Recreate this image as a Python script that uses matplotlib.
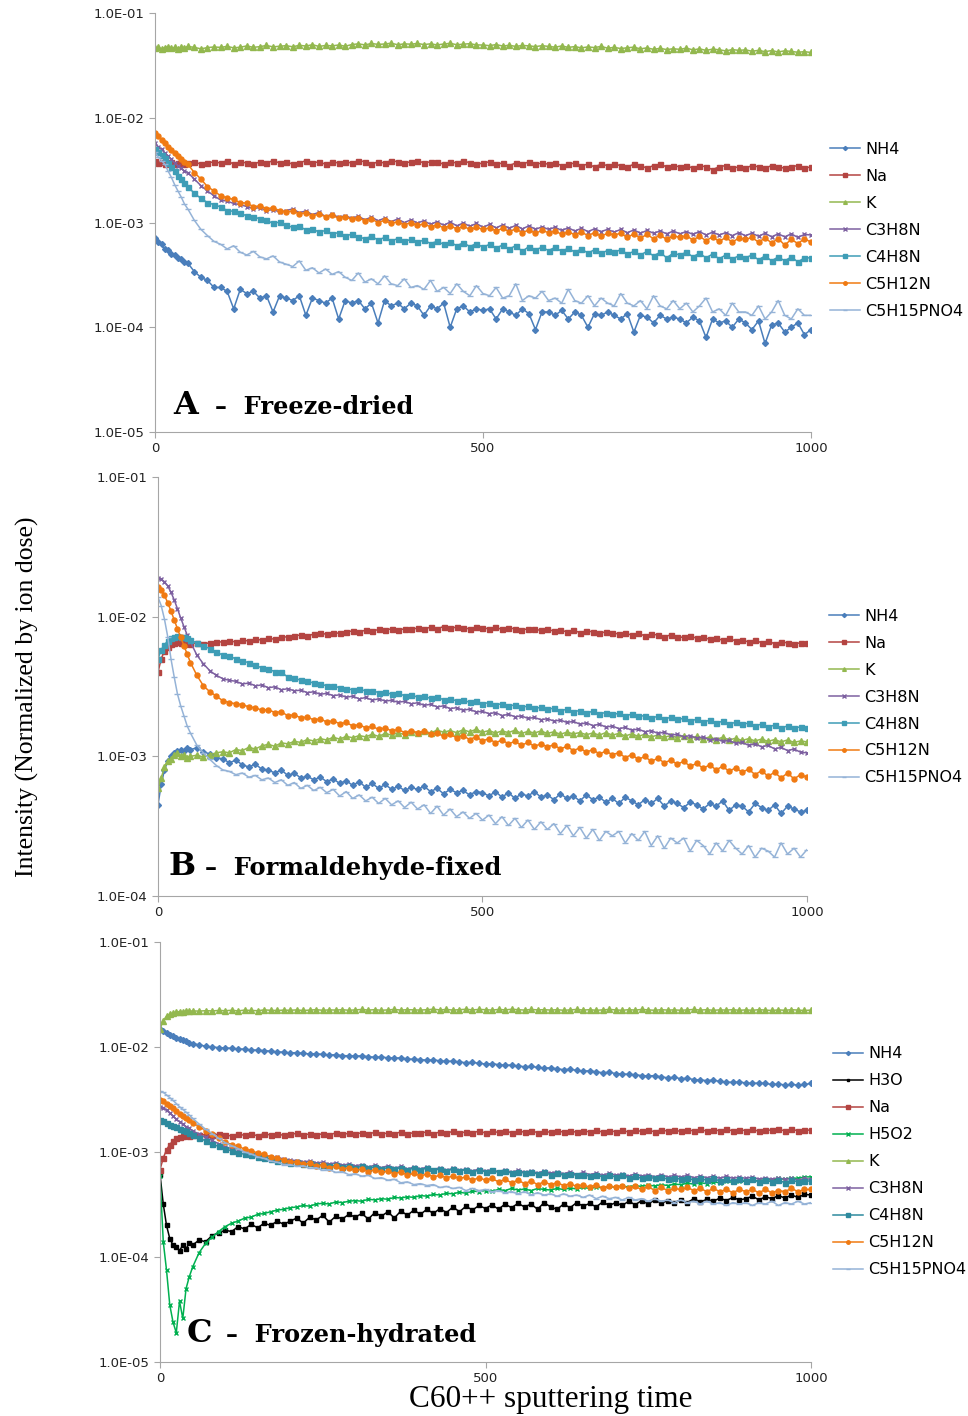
import numpy as np
import matplotlib.pyplot as plt

# sputtering time grid shared by all panels (finer at the start)
early_times = [0, 5, 10, 15, 20, 25, 30, 35, 40, 45, 50, 60, 70, 80, 90]
time = early_times + list(range(100, 1001, 10))

UNIT = 1e-4  # all intensities below are given in units of 1e-4

# ---- A: freeze-dried ----
a_nh4 = [7.1, 6.5, 6.2, 5.6, 5.5, 5.0, 4.9, 4.6, 4.5, 4.2, 4.1, 3.4, 3.0, 2.8, 2.4,
         2.4, 2.2, 1.5, 2.3, 2.1, 2.2, 1.9, 2.0, 1.4, 2.0,
         1.9, 1.8, 2.0, 1.3, 1.9, 1.8, 1.7, 1.9, 1.2, 1.8,
         1.7, 1.8, 1.5, 1.7, 1.1, 1.8, 1.6, 1.7, 1.5, 1.7,
         1.6, 1.3, 1.6, 1.5, 1.7, 1.0, 1.5, 1.6, 1.4, 1.5,
         1.45, 1.5, 1.2, 1.5, 1.4, 1.3, 1.5, 1.35, 0.95, 1.4,
         1.4, 1.3, 1.45, 1.2, 1.4, 1.3, 1.0, 1.35, 1.3, 1.4,
         1.3, 1.2, 1.35, 0.9, 1.3, 1.25, 1.1, 1.3, 1.2, 1.25,
         1.2, 1.1, 1.25, 1.15, 0.8, 1.2, 1.1, 1.15, 1.0, 1.2,
         1.1, 0.95, 1.15, 0.7, 1.05, 1.1, 0.9, 1.0, 1.1, 0.85, 0.95]
a_na = [39, 37, 38, 36, 37, 38, 36, 37, 38, 36, 37, 38, 36, 37, 38,
        37, 39, 36, 38, 37, 36, 38, 37, 39, 37,
        38, 36, 37, 39, 37, 38, 36, 38, 37, 38,
        37, 39, 38, 36, 38, 37, 39, 38, 37, 38,
        39, 37, 38, 38, 36, 38, 37, 39, 37, 36,
        37, 38, 36, 37, 35, 37, 36, 38, 36, 37,
        36, 37, 35, 36, 37, 35, 36, 34, 36, 35,
        36, 35, 34, 36, 35, 33, 35, 36, 34, 35,
        34, 35, 33, 35, 34, 32, 34, 35, 33, 34,
        33, 35, 34, 33, 35, 34, 33, 34, 35, 33, 34]
a_k = [460, 472, 455, 468, 478, 462, 470, 458, 475, 466, 480, 470, 455, 468, 474,
       470, 480, 465, 472, 485, 470, 478, 490, 475, 482,
       488, 476, 492, 484, 498, 480, 490, 486, 495, 482,
       500, 508, 496, 512, 502, 506, 515, 498, 508, 504,
       512, 500, 508, 496, 506, 514, 498, 504, 510, 496,
       495, 488, 500, 484, 492, 480, 490, 486, 478, 488,
       480, 472, 485, 470, 478, 465, 475, 468, 480, 462,
       470, 458, 466, 472, 455, 465, 450, 460, 448, 456,
       450, 462, 445, 455, 440, 452, 446, 435, 448, 440,
       445, 432, 440, 428, 438, 425, 436, 430, 422, 428, 420]
a_c3h8n = [57, 53, 50, 46, 43, 40, 37, 35, 33, 31, 30, 26, 22.5, 20, 18,
           16.4, 16.0, 15.2, 14.8, 14.2, 13.6, 13.9, 13.0, 13.3, 12.6,
           13.0, 13.5, 12.4, 12.9, 11.9, 12.5, 11.4, 12.0, 11.2, 11.6,
           11.0, 11.5, 10.6, 11.3, 10.4, 11.0, 10.2, 10.8, 10.0, 10.6,
           9.9, 10.4, 9.6, 10.2, 9.4, 10.1, 9.3, 9.9, 9.2, 9.8,
           9.0, 9.6, 8.9, 9.5, 8.8, 9.4, 8.7, 9.3, 8.6, 9.1,
           8.6, 9.0, 8.4, 8.9, 8.3, 8.8, 8.2, 8.7, 8.2, 8.6,
           8.1, 8.6, 8.0, 8.5, 7.9, 8.4, 7.9, 8.3, 7.8, 8.3,
           7.8, 8.2, 7.7, 8.2, 7.6, 8.1, 7.6, 8.0, 7.5, 8.0,
           7.5, 7.9, 7.4, 7.9, 7.3, 7.8, 7.3, 7.8, 7.2, 7.7, 7.6]
a_c4h8n = [50, 47, 44, 41, 37, 34, 31, 28, 26, 24, 22, 19, 17, 15.5, 14.8,
           14.1, 13.0, 12.8, 12.2, 11.6, 11.4, 10.8, 10.5, 9.8, 10.1,
           9.4, 9.0, 9.2, 8.5, 8.7, 8.1, 8.4, 7.8, 8.0, 7.5,
           7.7, 7.3, 7.0, 7.4, 6.8, 7.2, 6.7, 7.0, 6.6, 6.9,
           6.5, 6.8, 6.3, 6.6, 6.2, 6.5, 6.0, 6.4, 5.9, 6.3,
           5.8, 6.2, 5.7, 6.1, 5.6, 6.0, 5.3, 5.9, 5.5, 5.8,
           5.4, 5.8, 5.3, 5.7, 5.2, 5.6, 5.1, 5.5, 5.1, 5.4,
           5.2, 5.5, 5.0, 5.3, 4.9, 5.3, 4.8, 5.2, 4.6, 5.1,
           4.9, 5.2, 4.7, 5.1, 4.6, 5.0, 4.5, 4.9, 4.5, 4.8,
           4.6, 4.9, 4.4, 4.8, 4.3, 4.7, 4.3, 4.7, 4.2, 4.6, 4.6]
a_c5h12n = [71, 67, 62, 57, 53, 49, 46, 43, 40, 38, 36, 30, 26, 22, 20,
            18.0, 17.2, 16.6, 15.5, 15.3, 14.2, 14.4, 13.6, 13.8, 13.0,
            12.6, 12.9, 12.1, 12.4, 11.6, 12.0, 11.4, 11.7, 11.0, 11.4,
            10.7, 11.1, 10.4, 10.8, 10.0, 10.5, 9.8, 10.2, 9.5, 10.0,
            9.4, 9.7, 9.1, 9.5, 8.9, 9.3, 8.7, 9.2, 8.6, 9.0,
            8.6, 8.9, 8.3, 8.8, 8.2, 8.7, 8.0, 8.5, 7.9, 8.4,
            8.0, 8.3, 7.7, 8.2, 7.6, 8.1, 7.5, 8.0, 7.4, 7.9,
            7.6, 7.9, 7.2, 7.8, 7.1, 7.7, 7.0, 7.6, 6.9, 7.5,
            7.2, 7.5, 6.8, 7.4, 6.7, 7.3, 6.6, 7.2, 6.5, 7.1,
            6.9, 7.2, 6.5, 7.1, 6.4, 7.0, 6.1, 6.9, 6.3, 7.0, 6.5]
a_c5h15pno4 = [47, 42, 39, 36, 31, 27, 23, 20, 17.5, 15, 13.5, 10.5, 8.6, 7.5, 6.6,
               6.2, 5.6, 6.0, 5.2, 4.9, 5.3, 4.7, 4.5, 4.8, 4.2,
               4.0, 3.8, 4.3, 3.5, 3.7, 3.3, 3.6, 3.2, 3.4, 3.0,
               2.8, 3.3, 2.7, 2.9, 2.6, 3.1, 2.6, 2.5, 2.9, 2.4,
               2.5, 2.3, 2.8, 2.2, 2.4, 2.1, 2.6, 2.2, 2.0, 2.5,
               2.1, 2.0, 2.4, 1.9, 2.0, 2.6, 1.8, 2.0, 1.9, 2.2,
               1.8, 1.9, 1.7, 2.3, 1.8, 1.7, 2.0, 1.6, 1.9, 1.7,
               1.6, 2.1, 1.7, 1.6, 1.8, 1.5, 2.0, 1.6, 1.5, 1.8,
               1.5, 1.7, 1.4, 1.6, 1.9, 1.4, 1.5, 1.3, 1.7, 1.4,
               1.4, 1.3, 1.6, 1.2, 1.4, 1.8, 1.3, 1.2, 1.5, 1.3, 1.3]

# ---- B: formaldehyde-fixed ----
b_nh4 = [4.5, 6.3, 8.0, 9.2, 10.0, 10.6, 10.9, 11.2, 11.0, 11.4, 11.2, 11.5, 10.8, 10.4, 9.8,
         9.6, 9.0, 9.4, 8.7, 8.4, 8.8, 8.1, 8.0, 7.6, 8.0,
         7.3, 7.6, 7.0, 7.2, 6.8, 7.1, 6.6, 6.9, 6.4, 6.7,
         6.2, 6.6, 6.0, 6.4, 5.9, 6.3, 5.8, 6.1, 5.7, 6.0,
         5.8, 6.1, 5.6, 5.9, 5.4, 5.8, 5.5, 5.7, 5.3, 5.6,
         5.5, 5.2, 5.6, 5.1, 5.5, 5.0, 5.4, 5.2, 5.6, 5.1,
         5.3, 4.9, 5.4, 5.0, 5.2, 4.8, 5.3, 4.9, 5.1, 4.7,
         5.0, 4.6, 5.1, 4.8, 4.5, 4.9, 4.6, 5.0, 4.4, 4.8,
         4.6, 4.3, 4.7, 4.5, 4.2, 4.6, 4.4, 4.8, 4.1, 4.5,
         4.4, 4.0, 4.6, 4.3, 4.1, 4.5, 3.9, 4.4, 4.2, 4.0, 4.1]
b_na = [40, 50, 57, 61, 64, 65, 66, 65, 64, 65, 64, 65, 64, 65, 66,
        66, 67, 66, 68, 67, 69, 68, 70, 69, 71,
        72, 73, 74, 73, 75, 76, 75, 77, 76, 78,
        79, 78, 80, 79, 81, 80, 82, 80, 82, 81,
        83, 82, 84, 82, 85, 83, 84, 83, 82, 84,
        83, 82, 84, 81, 83, 82, 80, 82, 81, 80,
        81, 79, 80, 78, 80, 77, 79, 78, 76, 78,
        77, 75, 76, 74, 76, 73, 75, 74, 72, 74,
        72, 71, 73, 70, 71, 69, 70, 68, 70, 67,
        68, 66, 68, 65, 67, 64, 66, 65, 64, 65, 65]
b_k = [5.9, 7.0, 8.4, 9.2, 9.6, 10.2, 10.5, 10.1, 10.3, 9.8, 10.0, 10.2, 9.9, 10.3, 10.6,
       10.8, 10.6, 11.2, 11.0, 11.6, 11.3, 11.9, 12.2, 11.8, 12.5,
       12.3, 12.8, 12.6, 13.2, 12.9, 13.4, 13.1, 13.7, 13.3, 13.9,
       13.6, 14.1, 13.8, 14.4, 13.9, 14.6, 14.2, 14.8, 14.3, 15.0,
       14.6, 15.2, 14.7, 15.4, 14.9, 15.3, 14.8, 15.5, 15.0, 15.6,
       14.9, 15.3, 14.7, 15.2, 14.8, 15.4, 14.6, 15.1, 14.7, 15.2,
       14.6, 15.0, 14.4, 14.9, 14.5, 14.8, 14.3, 14.7, 14.2, 14.8,
       14.2, 14.6, 14.0, 14.5, 13.9, 14.4, 13.8, 14.2, 13.7, 14.1,
       13.6, 14.0, 13.4, 13.9, 13.3, 13.8, 13.2, 13.7, 13.1, 13.5,
       13.0, 13.4, 12.9, 13.3, 12.8, 13.2, 12.7, 13.1, 12.6, 12.9, 12.7]
b_c3h8n = [190, 186, 178, 166, 150, 132, 114, 98, 85, 74, 66, 53, 46, 41, 38,
           36, 35, 34.5, 33, 33.5, 32, 32.5, 31, 31.5, 30,
           30.5, 29.5, 29.8, 28.6, 29.0, 27.8, 28.3, 27.2, 27.6, 26.5,
           27.0, 25.8, 26.4, 25.3, 25.8, 24.9, 25.2, 24.4, 24.8, 23.8,
           24.2, 23.2, 23.6, 22.6, 23.0, 22.0, 22.3, 21.4, 21.8, 20.8,
           21.0, 20.2, 20.6, 19.6, 20.0, 19.2, 19.5, 18.7, 19.0, 18.3,
           18.6, 17.9, 18.2, 17.5, 17.8, 17.0, 17.4, 16.6, 17.0, 16.2,
           16.5, 15.8, 16.1, 15.4, 15.7, 15.0, 15.3, 14.6, 14.9, 14.2,
           14.4, 13.8, 14.1, 13.5, 13.8, 13.1, 13.4, 12.8, 13.0, 12.4,
           12.6, 12.0, 12.3, 11.7, 12.0, 11.3, 11.6, 11.0, 11.3, 10.7, 10.6]
b_c4h8n = [50, 58, 63, 67, 70, 72, 73, 72, 71, 70, 68, 65, 62, 59, 56,
           53, 52, 50, 48, 47, 45, 43, 42, 40.5, 40,
           37, 36.5, 35, 34.5, 33.5, 33, 32, 32, 31, 30.5,
           30, 30.5, 29.3, 29.6, 28.6, 28.9, 27.8, 28.2, 27.2, 27.5,
           26.6, 26.9, 26.0, 26.4, 25.5, 25.8, 25.0, 25.3, 24.4, 24.8,
           23.9, 24.2, 23.4, 23.8, 23.0, 23.3, 22.5, 22.9, 22.1, 22.4,
           21.8, 22.1, 21.3, 21.7, 20.9, 21.3, 20.5, 21.0, 20.2, 20.6,
           20.0, 20.3, 19.6, 20.0, 19.3, 19.6, 18.9, 19.3, 18.6, 19.0,
           18.4, 18.7, 18.0, 18.4, 17.7, 18.1, 17.4, 17.8, 17.1, 17.5,
           17.0, 17.3, 16.6, 17.0, 16.3, 16.7, 16.0, 16.5, 15.9, 16.3, 16.0]
b_c5h12n = [164, 156, 142, 126, 110, 95, 82, 71, 62, 54, 47, 38, 32, 29, 27,
            25, 24.3, 23.8, 23.5, 22.6, 22.3, 21.4, 21.6, 20.6, 20.9,
            19.5, 19.9, 18.8, 19.2, 18.2, 18.6, 17.6, 18.0, 17.1, 17.5,
            16.5, 16.9, 16.0, 16.4, 15.6, 16.0, 15.2, 15.6, 14.8, 15.3,
            14.8, 15.1, 14.4, 14.7, 13.9, 14.4, 13.6, 14.1, 13.2, 13.8,
            12.9, 13.4, 12.5, 13.1, 12.3, 12.8, 12.0, 12.6, 11.8, 12.3,
            11.7, 12.1, 11.3, 11.8, 11.0, 11.5, 10.7, 11.2, 10.4, 10.9,
            10.3, 10.6, 9.8, 10.3, 9.5, 10.0, 9.2, 9.7, 9.0, 9.4,
            8.8, 9.2, 8.5, 8.9, 8.2, 8.7, 8.0, 8.5, 7.8, 8.3,
            7.7, 8.1, 7.4, 7.9, 7.2, 7.7, 7.0, 7.6, 6.9, 7.4, 7.1]
b_c5h15pno4 = [138, 120, 96, 72, 50, 37, 28, 23, 19.5, 16.5, 14.7, 12, 10.6, 9.5, 8.6,
               8.0, 7.8, 7.4, 7.6, 7.1, 7.3, 6.8, 7.0, 6.5, 6.8,
               6.2, 6.5, 5.9, 6.2, 5.7, 6.0, 5.5, 5.8, 5.2, 5.6,
               5.0, 5.3, 4.8, 5.1, 4.6, 5.0, 4.5, 4.8, 4.3, 4.7,
               4.2, 4.5, 3.9, 4.4, 3.8, 4.2, 3.7, 4.0, 3.6, 3.9,
               3.5, 3.8, 3.3, 3.7, 3.2, 3.6, 3.1, 3.5, 3.0, 3.4,
               3.0, 3.3, 2.8, 3.2, 2.7, 3.1, 2.6, 3.0, 2.5, 2.9,
               2.7, 2.9, 2.4, 2.8, 2.5, 2.9, 2.3, 2.7, 2.2, 2.6,
               2.4, 2.6, 2.1, 2.5, 2.3, 2.0, 2.4, 2.1, 2.5, 2.2,
               2.0, 2.3, 1.9, 2.2, 2.1, 1.9, 2.4, 2.0, 2.2, 1.9, 2.15]

# ---- C: frozen-hydrated ----
c_nh4 = [150, 143, 136, 131, 127, 123, 119, 116, 113, 110, 108, 105, 102, 100, 99,
         98, 97.5, 96, 95.5, 94, 93.5, 92.5, 91.5, 90, 89.5,
         88, 88.5, 87, 86, 86.5, 85, 84, 84.5, 83, 82.5,
         82, 82.5, 81, 80, 80.5, 79, 78.5, 79, 77, 76.5,
         76, 75, 75.5, 74, 73, 73.5, 72, 71, 71.5, 70,
         69, 69.5, 68, 67, 67.5, 66, 65, 65.5, 64, 63,
         63.5, 62, 61, 61.5, 60, 59, 59.5, 58, 57, 57.5,
         56, 55.5, 55, 54.5, 53.5, 53, 53.5, 52, 51, 51.5,
         50, 50.5, 49, 48.5, 48, 48.5, 47, 46.5, 46, 46.5,
         45.5, 45, 45.5, 45, 44, 44.5, 43.5, 44, 43.5, 44, 45]
c_h3o = [6.1, 3.2, 2.0, 1.5, 1.3, 1.25, 1.15, 1.3, 1.2, 1.35, 1.3, 1.45, 1.4, 1.6, 1.7,
         1.8, 1.75, 1.95, 1.85, 2.05, 1.9, 2.1, 2.0, 2.2, 2.05,
         2.2, 2.35, 2.1, 2.4, 2.25, 2.5, 2.15, 2.45, 2.3, 2.55,
         2.4, 2.6, 2.3, 2.65, 2.45, 2.7, 2.35, 2.75, 2.5, 2.8,
         2.55, 2.85, 2.6, 2.9, 2.65, 3.0, 2.7, 3.05, 2.8, 3.1,
         2.9, 3.15, 2.85, 3.2, 2.95, 3.25, 3.0, 3.2, 2.85, 3.3,
         3.0, 2.85, 3.2, 2.95, 3.3, 3.05, 3.25, 3.0, 3.35, 3.1,
         3.3, 3.1, 3.4, 3.15, 3.45, 3.2, 3.5, 3.25, 3.45, 3.3,
         3.5, 3.3, 3.6, 3.35, 3.55, 3.4, 3.65, 3.45, 3.7, 3.5,
         3.6, 3.8, 3.5, 3.75, 3.6, 3.85, 3.65, 3.9, 3.7, 3.95, 3.9]
c_na = [6.8, 8.8, 10.5, 11.8, 12.8, 13.5, 13.9, 14.2, 14.5, 14.3, 14.6, 14.4, 14.7, 14.5, 14.8,
        14.6, 14.2, 14.9, 14.4, 14.8, 14.3, 15.0, 14.5, 14.9, 14.4,
        14.7, 15.1, 14.5, 14.9, 14.4, 15.0, 14.6, 15.2, 14.7, 15.1,
        14.8, 15.3, 14.9, 15.4, 14.8, 15.2, 15.0, 15.5, 14.9, 15.3,
        15.1, 15.6, 15.0, 15.5, 15.2, 15.7, 15.1, 15.6, 15.3, 15.8,
        15.2, 15.7, 15.4, 15.9, 15.3, 15.8, 15.5, 16.0, 15.3, 15.8,
        15.4, 15.9, 15.5, 16.0, 15.4, 15.9, 15.6, 16.1, 15.5, 16.0,
        15.6, 16.1, 15.5, 16.2, 15.7, 16.1, 15.6, 16.3, 15.8, 16.2,
        15.7, 16.3, 15.9, 16.4, 15.8, 16.2, 16.0, 16.5, 15.9, 16.3,
        16.0, 16.4, 15.8, 16.3, 16.1, 16.5, 15.9, 16.4, 16.0, 16.3, 16.1]
c_h5o2 = [5.9, 1.4, 0.75, 0.35, 0.24, 0.19, 0.38, 0.26, 0.5, 0.65, 0.8, 1.1, 1.35, 1.55, 1.75,
          1.95, 2.1, 2.2, 2.35, 2.4, 2.55, 2.6, 2.7, 2.8, 2.85,
          2.95, 3.0, 3.1, 3.05, 3.2, 3.25, 3.2, 3.35, 3.3, 3.4,
          3.45, 3.4, 3.55, 3.5, 3.6, 3.55, 3.7, 3.65, 3.75, 3.7,
          3.85, 3.8, 3.95, 3.9, 4.05, 4.0, 4.15, 4.05, 4.25, 4.2,
          4.3, 4.25, 4.4, 4.3, 4.5, 4.35, 4.45, 4.3, 4.5, 4.4,
          4.35, 4.5, 4.4, 4.55, 4.45, 4.6, 4.5, 4.65, 4.55, 4.7,
          4.6, 4.75, 4.65, 4.8, 4.7, 4.85, 4.75, 4.9, 4.8, 4.95,
          4.9, 5.05, 4.95, 5.1, 5.0, 5.2, 5.1, 5.25, 5.15, 5.3,
          5.25, 5.4, 5.3, 5.5, 5.4, 5.6, 5.5, 5.7, 5.6, 5.8, 5.8]
c_k = [150, 178, 196, 205, 211, 215, 218, 217, 220, 219, 221, 220, 222, 221, 223,
       222, 224, 221, 225, 223, 222, 226, 224, 223, 225,
       224, 226, 223, 225, 227, 224, 226, 225, 227, 224,
       226, 228, 225, 227, 224, 226, 228, 225, 227, 226,
       225, 227, 229, 226, 228, 225, 227, 229, 226, 228,
       227, 225, 228, 226, 229, 227, 225, 228, 226, 227,
       225, 227, 224, 226, 228, 225, 227, 224, 226, 228,
       226, 224, 227, 225, 228, 226, 224, 227, 225, 226,
       224, 226, 228, 225, 227, 224, 226, 225, 227, 224,
       226, 224, 227, 225, 223, 226, 224, 227, 225, 223, 225]
c_c3h8n = [27, 26.5, 25, 23.5, 22, 20.5, 19.5, 18.5, 17.5, 16.8, 16, 14.8, 13.8, 12.9, 12,
           11.2, 10.8, 10.6, 10.1, 9.9, 9.5, 9.4, 9.0, 8.9, 8.6,
           8.4, 8.3, 8.1, 8.2, 7.9, 8.0, 7.7, 7.9, 7.5, 7.7,
           7.4, 7.6, 7.2, 7.5, 7.1, 7.4, 7.0, 7.3, 6.9, 7.2,
           6.9, 7.2, 6.8, 7.1, 6.7, 7.0, 6.7, 6.9, 6.6, 6.9,
           6.6, 6.8, 6.5, 6.8, 6.4, 6.7, 6.4, 6.6, 6.3, 6.6,
           6.3, 6.5, 6.2, 6.5, 6.1, 6.4, 6.1, 6.3, 6.0, 6.3,
           6.0, 6.2, 5.9, 6.2, 5.9, 6.1, 5.8, 6.1, 5.8, 6.0,
           5.8, 6.0, 5.7, 5.9, 5.7, 5.9, 5.6, 5.9, 5.6, 5.8,
           5.6, 5.8, 5.5, 5.7, 5.5, 5.7, 5.5, 5.6, 5.4, 5.6, 5.5]
c_c4h8n = [20, 19.6, 19, 18.3, 17.8, 17.2, 16.7, 16.2, 15.7, 15.1, 14.6, 13.6, 12.8, 12.0, 11.3,
           10.7, 10.3, 9.9, 9.5, 9.3, 9.0, 8.7, 8.6, 8.3, 8.2,
           7.9, 8.0, 7.7, 7.8, 7.5, 7.6, 7.3, 7.5, 7.2, 7.4,
           7.1, 7.3, 7.0, 7.2, 6.9, 7.1, 6.9, 7.1, 6.8, 7.0,
           6.8, 7.0, 6.7, 6.9, 6.6, 6.9, 6.6, 6.8, 6.5, 6.7,
           6.5, 6.7, 6.4, 6.6, 6.3, 6.5, 6.3, 6.4, 6.2, 6.4,
           6.1, 6.3, 6.0, 6.2, 6.0, 6.1, 5.9, 6.1, 5.8, 6.0,
           5.8, 6.0, 5.7, 5.9, 5.6, 5.8, 5.6, 5.8, 5.5, 5.7,
           5.5, 5.7, 5.4, 5.6, 5.4, 5.6, 5.3, 5.5, 5.3, 5.5,
           5.3, 5.5, 5.2, 5.4, 5.2, 5.4, 5.1, 5.4, 5.2, 5.3, 5.3]
c_c5h12n = [31.5, 30.5, 29, 27.5, 26, 24.5, 23, 22, 21, 20, 19, 17.5, 16, 14.8, 13.5,
            12.4, 11.8, 11.3, 10.7, 10.3, 9.8, 9.5, 9.0, 8.8, 8.4,
            8.0, 8.1, 7.7, 7.8, 7.4, 7.5, 7.1, 7.3, 6.9, 7.1,
            6.7, 6.9, 6.5, 6.8, 6.4, 6.6, 6.2, 6.5, 6.0, 6.3,
            5.9, 6.2, 5.8, 6.0, 5.7, 5.9, 5.6, 5.8, 5.4, 5.7,
            5.4, 5.6, 5.2, 5.5, 5.1, 5.4, 5.0, 5.3, 4.9, 5.2,
            4.9, 5.1, 4.8, 5.0, 4.7, 4.9, 4.6, 4.9, 4.5, 4.8,
            4.6, 4.8, 4.5, 4.7, 4.4, 4.7, 4.3, 4.6, 4.3, 4.5,
            4.4, 4.6, 4.3, 4.5, 4.2, 4.5, 4.2, 4.4, 4.1, 4.4,
            4.2, 4.4, 4.1, 4.4, 4.1, 4.3, 4.2, 4.5, 4.2, 4.4, 4.4]
c_c5h15pno4 = [38, 37, 35, 33, 31, 29, 27, 25.5, 24, 22.5, 21, 18.5, 16.5, 15, 13.5,
               12.3, 11.5, 10.8, 10.0, 9.6, 9.0, 8.7, 8.2, 8.0, 7.6,
               7.6, 7.3, 7.4, 7.0, 7.1, 6.7, 6.8, 6.4, 6.5, 6.1,
               6.2, 5.9, 6.0, 5.6, 5.7, 5.4, 5.5, 5.1, 5.2, 4.9,
               5.0, 4.8, 4.9, 4.6, 4.7, 4.5, 4.6, 4.3, 4.5, 4.3,
               4.4, 4.2, 4.3, 4.1, 4.2, 4.0, 4.2, 3.9, 4.1, 3.9,
               4.0, 3.8, 4.0, 3.8, 3.9, 3.7, 3.9, 3.6, 3.8, 3.6,
               3.7, 3.5, 3.7, 3.5, 3.6, 3.4, 3.6, 3.4, 3.5, 3.3,
               3.5, 3.3, 3.4, 3.2, 3.4, 3.2, 3.3, 3.1, 3.3, 3.2,
               3.3, 3.1, 3.3, 3.2, 3.4, 3.1, 3.3, 3.2, 3.4, 3.2, 3.3]

ytick_labels = ['1.0E-05', '1.0E-04', '1.0E-03', '1.0E-02', '1.0E-01']
xticks = [0, 500, 1000]

# name: (color, marker, marker size)
style = {
    'NH4': ('#4A7EBB', 'D', 3),
    'H3O': ('#000000', 's', 3),
    'Na': ('#B44441', 's', 3.6),
    'H5O2': ('#00B050', 'x', 3.5),
    'K': ('#93B84F', '^', 3.8),
    'C3H8N': ('#7D60A0', 'x', 3.5),
    'C4H8N': ('#3E9DB6', 's', 3.6),
    'C5H12N': ('#F07A12', 'o', 3.6),
    'C5H15PNO4': ('#95B3D7', '_', 4.5),
}

panels = [
    dict(rect=[0.1601, 0.6949, 0.6777, 0.2959], ymin=1e-5, leg=(1.029, 0.482),
         letter='A', name='Freeze-dried', lx=173, ly=414, dx=215, size=17.3,
         series=[('NH4', a_nh4), ('Na', a_na), ('K', a_k), ('C3H8N', a_c3h8n),
                 ('C4H8N', a_c4h8n), ('C5H12N', a_c5h12n), ('C5H15PNO4', a_c5h15pno4)]),
    dict(rect=[0.1632, 0.3672, 0.6705, 0.2959], ymin=1e-4, leg=(1.034, 0.475),
         letter='B', name='Formaldehyde-fixed', lx=169, ly=875, dx=205, size=17.4,
         series=[('NH4', b_nh4), ('Na', b_na), ('K', b_k), ('C3H8N', b_c3h8n),
                 ('C4H8N', b_c4h8n), ('C5H12N', b_c5h12n), ('C5H15PNO4', b_c5h15pno4)]),
    dict(rect=[0.1653, 0.0381, 0.6725, 0.2966], ymin=1e-5, leg=(1.034, 0.477),
         letter='C', name='Frozen-hydrated', lx=187, ly=1342, dx=226, size=17.3,
         series=[('NH4', c_nh4), ('H3O', c_h3o), ('Na', c_na), ('H5O2', c_h5o2),
                 ('K', c_k), ('C3H8N', c_c3h8n), ('C4H8N', c_c4h8n),
                 ('C5H12N', c_c5h12n), ('C5H15PNO4', c_c5h15pno4)]),
]

W, H = 968, 1416
fig = plt.figure(figsize=(W / 100, H / 100), dpi=100)

for p in panels:
    ax = fig.add_axes(p['rect'])
    for name, vals in p['series']:
        col, mk, ms = style[name]
        if name == 'C4H8N' and p['letter'] == 'C':
            col = '#2E8A9E'
        ax.plot(time, np.array(vals) * UNIT, color=col, lw=1.1, marker=mk, ms=ms,
                mew=1, label=name)
    ax.set_yscale('log')
    ax.set_xlim(0, 1000)
    ax.set_ylim(p['ymin'], 1e-1)
    decades = [1e-5, 1e-4, 1e-3, 1e-2, 1e-1]
    keep = [i for i, d in enumerate(decades) if d >= p['ymin']]
    ax.set_yticks([decades[i] for i in keep])
    ax.set_yticklabels([ytick_labels[i] for i in keep])
    ax.minorticks_off()
    ax.set_xticks(xticks)
    ax.set_xticklabels([str(t) for t in xticks])
    for s in ['top', 'right']:
        ax.spines[s].set_visible(False)
    for s in ['left', 'bottom']:
        ax.spines[s].set_color('#A6A6A6')
    ax.tick_params(colors='#A6A6A6', labelcolor='#222222', labelsize=9.5, length=4, width=0.8)
    leg = ax.legend(loc='center left', bbox_to_anchor=p['leg'], frameon=False, fontsize=11.5,
                    labelspacing=0.75, handlelength=1.9, handletextpad=0.3,
                    borderpad=0, borderaxespad=0, markerscale=0.7)

    fig.text(p['lx'] / W, 1 - p['ly'] / H, p['letter'], family='DejaVu Serif',
             weight='bold', fontsize=23, va='baseline')
    fig.text(p['dx'] / W, 1 - p['ly'] / H, '\u2013  ' + p['name'], family='DejaVu Serif',
             weight='bold', fontsize=p['size'], va='baseline')

fig.text(27 / W, 1 - 697 / H, 'Intensity (Normalized by ion dose)', family='Liberation Serif',
         fontsize=18.5, rotation=90, ha='center', va='center')
fig.text(551 / W, 1 - 1400 / H, 'C60++ sputtering time', family='Liberation Serif',
         fontsize=22.5, ha='center', va='center')

fig.savefig('out.png', dpi=100)
